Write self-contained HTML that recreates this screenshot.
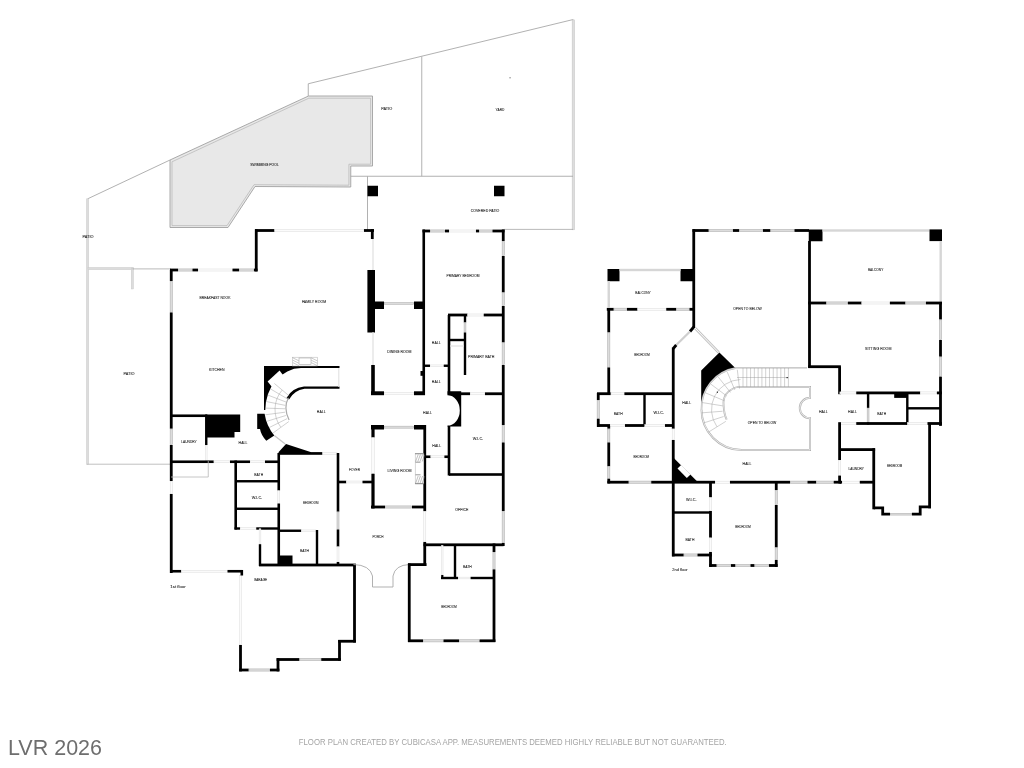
<!DOCTYPE html>
<html><head><meta charset="utf-8"><style>
html,body{margin:0;padding:0;background:#fff;width:1024px;height:768px;overflow:hidden}
svg{display:block;filter:grayscale(1)}
.lab text{font-family:"Liberation Sans",sans-serif;font-size:42px;fill:#1a1a1a;stroke:#1a1a1a;stroke-width:0.8px}
</style></head><body>
<svg width="1024" height="768" viewBox="0 0 1024 768">
<rect width="1024" height="768" fill="#fff"/>
<path d="M170,160 L308.5,96 L372.5,96 L372.5,166 L350.75,166 L350.75,187 L255,186.5 L228,227.5 L170,227.5 Z" fill="#e8e8e8" stroke="#a0a0a0" stroke-width="0.9"/>
<path d="M172,161.8 L308.8,98.2 L370.6,98.2 L370.6,164.2 L348.9,164.2 L348.9,185.2 L254,184.7 L227,225.6 L172,225.6 Z" fill="none" stroke="#b4b4b4" stroke-width="0.7"/>
<polyline points="87.50,198.90 170.00,160.00" fill="none" stroke="#a8a8a8" stroke-width="0.9"/>
<rect x="86.40" y="198.90" width="2.30" height="265.60" fill="#dcdcdc" stroke="#c6c6c6" stroke-width="0.4"/>
<polyline points="308.25,96.00 308.25,83.75 573.25,19.50" fill="none" stroke="#a8a8a8" stroke-width="0.9"/>
<rect x="572.15" y="19.90" width="2.40" height="209.90" fill="#dddddd" stroke="#c2c2c2" stroke-width="0.5"/>
<polyline points="421.75,56.50 421.75,176.25" fill="none" stroke="#a8a8a8" stroke-width="0.9"/>
<polyline points="350.75,176.25 573.00,176.25" fill="none" stroke="#a8a8a8" stroke-width="0.9"/>
<polyline points="367.50,176.25 367.50,230.00" fill="none" stroke="#a8a8a8" stroke-width="0.9"/>
<polyline points="504.00,229.40 573.00,229.40" fill="none" stroke="#a8a8a8" stroke-width="0.8"/>
<polyline points="87.00,464.20 171.00,464.20" fill="none" stroke="#c0c0c0" stroke-width="1.0"/>
<rect x="88.00" y="267.40" width="45.40" height="2.30" fill="#dcdcdc" stroke="#c6c6c6" stroke-width="0.4"/>
<rect x="131.20" y="268.00" width="2.30" height="21.00" fill="#dcdcdc" stroke="#c6c6c6" stroke-width="0.4"/>
<polyline points="132.50,268.90 171.00,268.90" fill="none" stroke="#a8a8a8" stroke-width="0.8"/>
<rect x="509.50" y="77.30" width="1.10" height="1.00" fill="#555"/>
<rect x="367.50" y="185.75" width="10.50" height="10.50" fill="#000"/>
<rect x="494.00" y="185.75" width="10.50" height="10.50" fill="#000"/>
<rect x="169.85" y="270.00" width="2.80" height="11.00" fill="#000"/>
<rect x="170.15" y="281.30" width="2.20" height="30.90" fill="#dcdcdc" stroke="#b4b4b4" stroke-width="0.6"/>
<rect x="169.85" y="312.50" width="2.80" height="116.25" fill="#000"/>
<rect x="170.15" y="429.05" width="2.20" height="15.65" fill="#dcdcdc" stroke="#b4b4b4" stroke-width="0.6"/>
<rect x="169.85" y="445.00" width="2.80" height="36.00" fill="#000"/>
<rect x="170.20" y="481.25" width="2.10" height="12.50" fill="#fbfbfb" stroke="#dcdcdc" stroke-width="0.5"/>
<rect x="169.85" y="494.00" width="2.80" height="79.00" fill="#000"/>
<rect x="170.00" y="268.60" width="8.00" height="2.80" fill="#000"/>
<rect x="178.30" y="268.90" width="13.90" height="2.20" fill="#dcdcdc" stroke="#b4b4b4" stroke-width="0.6"/>
<rect x="192.50" y="268.60" width="5.50" height="2.80" fill="#000"/>
<rect x="198.25" y="268.95" width="34.00" height="2.10" fill="#fbfbfb" stroke="#dcdcdc" stroke-width="0.5"/>
<rect x="232.50" y="268.60" width="6.50" height="2.80" fill="#000"/>
<rect x="239.30" y="268.90" width="14.40" height="2.20" fill="#dcdcdc" stroke="#b4b4b4" stroke-width="0.6"/>
<rect x="254.00" y="268.60" width="3.50" height="2.80" fill="#000"/>
<rect x="254.85" y="229.20" width="2.80" height="42.20" fill="#000"/>
<rect x="255.00" y="229.10" width="19.50" height="2.80" fill="#000"/>
<rect x="274.75" y="229.45" width="89.00" height="2.10" fill="#fbfbfb" stroke="#dcdcdc" stroke-width="0.5"/>
<rect x="364.00" y="229.10" width="10.00" height="2.80" fill="#000"/>
<rect x="370.90" y="229.20" width="2.80" height="9.80" fill="#000"/>
<rect x="372.55" y="239.25" width="0.90" height="30.50" fill="#fbfbfb" stroke="#dcdcdc" stroke-width="0.5"/>
<rect x="367.40" y="270.00" width="7.60" height="62.50" fill="#000"/>
<rect x="372.25" y="332.75" width="1.50" height="32.00" fill="#fbfbfb" stroke="#dcdcdc" stroke-width="0.5"/>
<rect x="371.20" y="365.00" width="3.60" height="30.00" fill="#000"/>
<rect x="373.00" y="301.50" width="11.00" height="7.50" fill="#000"/>
<rect x="384.30" y="302.50" width="29.40" height="1.80" fill="#dcdcdc" stroke="#b4b4b4" stroke-width="0.6"/>
<rect x="414.00" y="301.50" width="11.00" height="7.50" fill="#000"/>
<rect x="422.45" y="229.50" width="2.60" height="165.50" fill="#000"/>
<rect x="420.50" y="371.00" width="2.50" height="4.80" fill="#000"/>
<rect x="371.00" y="391.30" width="13.00" height="3.90" fill="#000"/>
<rect x="384.25" y="392.35" width="29.50" height="1.90" fill="#fbfbfb" stroke="#dcdcdc" stroke-width="0.5"/>
<rect x="414.00" y="391.30" width="11.00" height="3.90" fill="#000"/>
<rect x="422.50" y="229.60" width="7.50" height="2.80" fill="#000"/>
<rect x="430.30" y="229.90" width="14.40" height="2.20" fill="#dcdcdc" stroke="#b4b4b4" stroke-width="0.6"/>
<rect x="445.00" y="229.60" width="4.00" height="2.80" fill="#000"/>
<rect x="449.25" y="229.95" width="26.50" height="2.10" fill="#fbfbfb" stroke="#dcdcdc" stroke-width="0.5"/>
<rect x="476.00" y="229.60" width="3.00" height="2.80" fill="#000"/>
<rect x="479.30" y="229.90" width="12.90" height="2.20" fill="#dcdcdc" stroke="#b4b4b4" stroke-width="0.6"/>
<rect x="492.50" y="229.60" width="12.00" height="2.80" fill="#000"/>
<rect x="501.85" y="229.50" width="2.80" height="11.50" fill="#000"/>
<rect x="502.15" y="241.30" width="2.20" height="14.40" fill="#dcdcdc" stroke="#b4b4b4" stroke-width="0.6"/>
<rect x="501.85" y="256.00" width="2.80" height="36.50" fill="#000"/>
<rect x="502.15" y="292.80" width="2.20" height="12.90" fill="#dcdcdc" stroke="#b4b4b4" stroke-width="0.6"/>
<rect x="501.85" y="306.00" width="2.80" height="36.50" fill="#000"/>
<rect x="502.15" y="342.80" width="2.20" height="21.90" fill="#dcdcdc" stroke="#b4b4b4" stroke-width="0.6"/>
<rect x="501.85" y="365.00" width="2.80" height="60.00" fill="#000"/>
<rect x="502.15" y="425.30" width="2.20" height="16.90" fill="#dcdcdc" stroke="#b4b4b4" stroke-width="0.6"/>
<rect x="501.85" y="442.50" width="2.80" height="68.50" fill="#000"/>
<rect x="502.15" y="511.30" width="2.20" height="31.40" fill="#dcdcdc" stroke="#b4b4b4" stroke-width="0.6"/>
<rect x="501.85" y="543.00" width="2.80" height="3.00" fill="#000"/>
<rect x="448.00" y="313.60" width="19.50" height="2.80" fill="#000"/>
<rect x="467.75" y="313.95" width="15.75" height="2.10" fill="#fbfbfb" stroke="#dcdcdc" stroke-width="0.5"/>
<rect x="483.75" y="313.60" width="19.25" height="2.80" fill="#000"/>
<rect x="447.70" y="315.00" width="2.60" height="79.50" fill="#000"/>
<rect x="463.80" y="315.00" width="2.40" height="7.50" fill="#000"/>
<rect x="464.10" y="322.80" width="1.80" height="9.40" fill="#dcdcdc" stroke="#b4b4b4" stroke-width="0.6"/>
<rect x="463.80" y="332.50" width="2.40" height="42.50" fill="#000"/>
<rect x="449.00" y="338.80" width="16.00" height="2.40" fill="#000"/>
<rect x="450.25" y="345.75" width="13.50" height="0.50" fill="#fbfbfb" stroke="#dcdcdc" stroke-width="0.5"/>
<rect x="449.00" y="392.35" width="21.00" height="2.80" fill="#000"/>
<rect x="470.25" y="392.70" width="14.50" height="2.10" fill="#fbfbfb" stroke="#dcdcdc" stroke-width="0.5"/>
<rect x="485.00" y="392.35" width="18.00" height="2.80" fill="#000"/>
<rect x="424.00" y="364.55" width="6.00" height="2.40" fill="#000"/>
<rect x="430.25" y="364.90" width="13.25" height="1.70" fill="#fbfbfb" stroke="#dcdcdc" stroke-width="0.5"/>
<rect x="443.75" y="364.55" width="5.25" height="2.40" fill="#000"/>
<path d="M447.5,391.2 H461.2 V426.6 H447.5 V425.6 A12.3 15.2 0 0 0 447.5 395.2 Z" fill="#000" stroke="none" stroke-width="1"/>
<rect x="447.70" y="426.00" width="2.60" height="49.50" fill="#000"/>
<rect x="449.00" y="473.20" width="54.00" height="2.60" fill="#000"/>
<rect x="424.00" y="455.45" width="6.60" height="2.60" fill="#000"/>
<rect x="430.85" y="455.80" width="13.30" height="1.90" fill="#fbfbfb" stroke="#dcdcdc" stroke-width="0.5"/>
<rect x="444.40" y="455.45" width="4.60" height="2.60" fill="#000"/>
<rect x="423.35" y="425.00" width="2.80" height="86.25" fill="#000"/>
<rect x="423.70" y="511.50" width="2.10" height="30.25" fill="#fbfbfb" stroke="#dcdcdc" stroke-width="0.5"/>
<rect x="423.35" y="542.00" width="2.80" height="24.00" fill="#000"/>
<rect x="423.50" y="543.40" width="80.00" height="2.80" fill="#000"/>
<rect x="371.00" y="425.00" width="13.00" height="4.50" fill="#000"/>
<rect x="384.30" y="426.20" width="29.40" height="2.00" fill="#dcdcdc" stroke="#b4b4b4" stroke-width="0.6"/>
<rect x="414.00" y="425.00" width="11.00" height="4.50" fill="#000"/>
<rect x="371.40" y="425.00" width="3.20" height="12.50" fill="#000"/>
<rect x="371.75" y="437.75" width="2.50" height="35.75" fill="#fbfbfb" stroke="#dcdcdc" stroke-width="0.5"/>
<rect x="371.40" y="473.75" width="3.20" height="34.75" fill="#000"/>
<rect x="371.00" y="505.60" width="14.00" height="2.80" fill="#000"/>
<rect x="385.30" y="505.90" width="26.40" height="2.20" fill="#dcdcdc" stroke="#b4b4b4" stroke-width="0.6"/>
<rect x="412.00" y="505.60" width="13.00" height="2.80" fill="#000"/>
<rect x="415.20" y="453.70" width="8.60" height="30.10" fill="#fff" stroke="#b0b0b0" stroke-width="0.5"/>
<g stroke="#777" stroke-width="0.45"><line x1="415.60" y1="461.5" x2="418.20" y2="454.5"/><line x1="417.80" y1="461.5" x2="420.40" y2="454.5"/><line x1="420.00" y1="461.5" x2="422.60" y2="454.5"/><line x1="422.20" y1="461.5" x2="424.80" y2="454.5"/><line x1="415.60" y1="483.3" x2="418.20" y2="476"/><line x1="417.80" y1="483.3" x2="420.40" y2="476"/><line x1="420.00" y1="483.3" x2="422.60" y2="476"/><line x1="422.20" y1="483.3" x2="424.80" y2="476"/></g>
<g stroke="#555" stroke-width="0.6"><line x1="415.2" y1="453.8" x2="423.8" y2="453.8"/><line x1="415.2" y1="483.7" x2="423.8" y2="483.7"/><line x1="415.5" y1="462.2" x2="420.5" y2="462.2"/><line x1="415.5" y1="474.8" x2="420.5" y2="474.8"/></g>
<rect x="278.75" y="452.40" width="43.75" height="2.20" fill="#000"/>
<rect x="322.75" y="452.75" width="14.50" height="1.50" fill="#fbfbfb" stroke="#dcdcdc" stroke-width="0.5"/>
<rect x="336.70" y="453.00" width="2.60" height="58.70" fill="#000"/>
<rect x="337.00" y="512.00" width="2.00" height="17.20" fill="#dcdcdc" stroke="#b4b4b4" stroke-width="0.6"/>
<rect x="336.70" y="529.50" width="2.60" height="17.10" fill="#000"/>
<rect x="337.05" y="546.85" width="1.90" height="14.90" fill="#fbfbfb" stroke="#dcdcdc" stroke-width="0.5"/>
<rect x="336.70" y="562.00" width="2.60" height="4.00" fill="#000"/>
<rect x="338.00" y="480.70" width="8.25" height="2.60" fill="#000"/>
<rect x="346.50" y="481.05" width="15.75" height="1.90" fill="#fbfbfb" stroke="#dcdcdc" stroke-width="0.5"/>
<rect x="362.50" y="480.70" width="11.50" height="2.60" fill="#000"/>
<rect x="277.45" y="453.00" width="2.60" height="37.50" fill="#000"/>
<rect x="277.80" y="490.75" width="1.90" height="12.50" fill="#fbfbfb" stroke="#dcdcdc" stroke-width="0.5"/>
<rect x="277.45" y="503.50" width="2.60" height="62.50" fill="#000"/>
<rect x="234.40" y="460.50" width="2.60" height="69.00" fill="#000"/>
<rect x="235.70" y="480.05" width="43.05" height="2.40" fill="#000"/>
<rect x="235.70" y="507.55" width="43.05" height="2.40" fill="#000"/>
<rect x="234.50" y="527.30" width="5.50" height="2.40" fill="#000"/>
<rect x="240.25" y="527.65" width="15.75" height="1.70" fill="#fbfbfb" stroke="#dcdcdc" stroke-width="0.5"/>
<rect x="256.25" y="527.30" width="22.50" height="2.40" fill="#000"/>
<rect x="259.15" y="528.75" width="1.70" height="15.20" fill="#fbfbfb" stroke="#dcdcdc" stroke-width="0.5"/>
<rect x="258.80" y="544.20" width="2.40" height="21.80" fill="#000"/>
<rect x="278.00" y="529.55" width="23.25" height="2.40" fill="#000"/>
<rect x="301.50" y="529.90" width="14.50" height="1.70" fill="#fbfbfb" stroke="#dcdcdc" stroke-width="0.5"/>
<rect x="315.80" y="530.00" width="2.40" height="35.00" fill="#000"/>
<rect x="278.75" y="555.50" width="13.75" height="9.50" fill="#000"/>
<rect x="259.00" y="563.60" width="96.90" height="2.80" fill="#000"/>
<rect x="353.10" y="565.00" width="2.80" height="77.50" fill="#000"/>
<rect x="338.20" y="639.85" width="17.70" height="2.80" fill="#000"/>
<rect x="338.10" y="640.00" width="2.80" height="20.80" fill="#000"/>
<rect x="276.60" y="658.10" width="22.90" height="2.80" fill="#000"/>
<rect x="299.80" y="658.40" width="21.15" height="2.20" fill="#dcdcdc" stroke="#b4b4b4" stroke-width="0.6"/>
<rect x="321.25" y="658.10" width="19.55" height="2.80" fill="#000"/>
<rect x="276.60" y="658.20" width="2.80" height="13.20" fill="#000"/>
<rect x="239.10" y="668.60" width="9.65" height="2.80" fill="#000"/>
<rect x="249.05" y="668.90" width="20.65" height="2.20" fill="#dcdcdc" stroke="#b4b4b4" stroke-width="0.6"/>
<rect x="270.00" y="668.60" width="9.40" height="2.80" fill="#000"/>
<rect x="239.10" y="645.00" width="2.80" height="26.40" fill="#000"/>
<rect x="239.65" y="575.25" width="1.70" height="69.50" fill="#fbfbfb" stroke="#dcdcdc" stroke-width="0.5"/>
<rect x="170.00" y="569.95" width="11.25" height="2.60" fill="#000"/>
<rect x="181.50" y="570.30" width="45.75" height="1.90" fill="#fbfbfb" stroke="#dcdcdc" stroke-width="0.5"/>
<rect x="227.50" y="569.95" width="15.00" height="2.60" fill="#000"/>
<rect x="240.50" y="570.00" width="2.60" height="5.50" fill="#000"/>
<rect x="170.00" y="414.45" width="36.50" height="2.60" fill="#000"/>
<rect x="205.05" y="414.50" width="2.40" height="30.50" fill="#000"/>
<rect x="205.40" y="445.25" width="1.70" height="15.50" fill="#fbfbfb" stroke="#dcdcdc" stroke-width="0.5"/>
<rect x="170.00" y="460.45" width="43.75" height="2.60" fill="#000"/>
<rect x="214.00" y="460.80" width="15.75" height="1.90" fill="#fbfbfb" stroke="#dcdcdc" stroke-width="0.5"/>
<rect x="230.00" y="460.45" width="20.00" height="2.60" fill="#000"/>
<rect x="250.25" y="460.80" width="14.50" height="1.90" fill="#fbfbfb" stroke="#dcdcdc" stroke-width="0.5"/>
<rect x="265.00" y="460.45" width="14.50" height="2.60" fill="#000"/>
<path d="M206,414.5 L240.2,414.5 L240.2,432 L234.5,432 L234.5,437.5 L207,437.5 Z" fill="#000" stroke="none" stroke-width="1"/>
<polyline points="171.00,477.00 208.25,477.00 208.25,461.00" fill="none" stroke="#b8b8b8" stroke-width="0.8"/>
<polyline points="356.25,564.25" fill="none" stroke="#000" stroke-width="1.0"/>
<path d="M353.5,564.5 Q370,565 372.5,576 L372.5,587 L393,587 L393,576 Q395,565 409.5,564.5" fill="none" stroke="#a8a8a8" stroke-width="0.9"/>
<rect x="407.85" y="563.50" width="2.80" height="78.50" fill="#000"/>
<rect x="408.00" y="563.20" width="18.50" height="2.80" fill="#000"/>
<rect x="441.55" y="545.25" width="1.50" height="29.50" fill="#fbfbfb" stroke="#dcdcdc" stroke-width="0.5"/>
<rect x="441.20" y="575.00" width="2.20" height="4.00" fill="#000"/>
<rect x="453.80" y="545.00" width="2.40" height="34.00" fill="#000"/>
<rect x="441.00" y="576.80" width="17.00" height="2.40" fill="#000"/>
<rect x="458.25" y="577.15" width="12.10" height="1.70" fill="#fbfbfb" stroke="#dcdcdc" stroke-width="0.5"/>
<rect x="470.60" y="576.80" width="24.40" height="2.40" fill="#000"/>
<rect x="492.60" y="543.50" width="2.80" height="8.50" fill="#000"/>
<rect x="492.90" y="552.30" width="2.20" height="16.80" fill="#dcdcdc" stroke="#b4b4b4" stroke-width="0.6"/>
<rect x="492.60" y="569.40" width="2.80" height="72.60" fill="#000"/>
<rect x="408.00" y="639.40" width="15.00" height="2.80" fill="#000"/>
<rect x="423.30" y="639.70" width="19.90" height="2.20" fill="#dcdcdc" stroke="#b4b4b4" stroke-width="0.6"/>
<rect x="443.50" y="639.40" width="15.50" height="2.80" fill="#000"/>
<rect x="459.30" y="639.70" width="20.00" height="2.20" fill="#dcdcdc" stroke="#b4b4b4" stroke-width="0.6"/>
<rect x="479.60" y="639.40" width="15.80" height="2.80" fill="#000"/>
<path d="M264,366 L339.5,366 L339.5,368.1 L301,368.1 A36 42 0 0 0 265.3,410 L264,410 Z" fill="#000" stroke="none" stroke-width="1"/>
<path d="M267.6,381.5 L279.6,370.5 L283.5,375.8 L272.2,387.3 Z" fill="#fff" stroke="none" stroke-width="1"/>
<path d="M339.5,386.6 L304,386.6 Q292,388 286.5,398 L289,399.5 Q294,390.5 304.5,388.8 L339.5,388.8 Z" fill="#000" stroke="none" stroke-width="1"/>
<rect x="338.55" y="368.25" width="0.50" height="18.50" fill="#fbfbfb" stroke="#dcdcdc" stroke-width="0.5"/>
<path d="M257.2,413.7 L264.6,413.7 Q266.5,426 274.3,435.5 L266.3,440.8 Q261,435 260,429 L257.2,429 Z" fill="#000" stroke="none" stroke-width="1"/>
<path d="M278.7,454.4 L278.7,452 L286,444 L311.3,452.3 L322,452.3 L322,454.4 Z" fill="#000" stroke="none" stroke-width="1"/>
<polyline points="274.30,435.50 285.20,444.00" fill="none" stroke="#c8c8c8" stroke-width="1.2"/>
<g stroke="#999" stroke-width="0.45" fill="none">
<line x1="289.68" y1="396.32" x2="274.36" y2="383.47"/>
<line x1="287.77" y1="399.10" x2="270.53" y2="388.94"/>
<line x1="286.33" y1="402.15" x2="267.66" y2="394.99"/>
<line x1="285.40" y1="405.41" x2="265.80" y2="401.43"/>
<line x1="285.01" y1="408.78" x2="265.02" y2="408.09"/>
<line x1="285.17" y1="412.18" x2="265.34" y2="414.79"/>
<line x1="285.87" y1="415.49" x2="266.75" y2="421.34"/>
<line x1="287.10" y1="418.65" x2="269.20" y2="427.57"/>
<line x1="288.82" y1="421.55" x2="272.64" y2="433.31"/>
<path d="M282.02,390.22 A30 30 0 0 0 280.73,427.13"/>
</g>
<path d="M288.4,397.8 Q283,408 289.1,420" fill="none" stroke="#aaa" stroke-width="1.2"/>
<rect x="292.60" y="357.20" width="24.80" height="8.80" fill="#fff" stroke="#b0b0b0" stroke-width="0.5"/>
<rect x="299.00" y="358.00" width="12.00" height="6.50" fill="#fff" stroke="#999" stroke-width="0.5"/>
<g stroke="#888" stroke-width="0.45"><line x1="292.8" y1="357.80" x2="298.8" y2="360.80"/><line x1="292.8" y1="360.20" x2="298.8" y2="363.20"/><line x1="292.8" y1="362.60" x2="298.8" y2="365.60"/><line x1="311.2" y1="357.80" x2="317.2" y2="360.80"/><line x1="311.2" y1="360.20" x2="317.2" y2="363.20"/><line x1="311.2" y1="362.60" x2="317.2" y2="365.60"/></g>
<rect x="607.50" y="269.00" width="12.00" height="12.25" fill="#000"/>
<rect x="680.50" y="269.00" width="13.25" height="12.25" fill="#000"/>
<rect x="619.50" y="268.80" width="61.00" height="2.40" fill="#d6d6d6"/>
<rect x="607.55" y="281.00" width="2.40" height="26.50" fill="#d6d6d6"/>
<rect x="692.50" y="229.10" width="16.25" height="2.80" fill="#000"/>
<rect x="709.05" y="229.40" width="23.65" height="2.20" fill="#dcdcdc" stroke="#b4b4b4" stroke-width="0.6"/>
<rect x="733.00" y="229.10" width="6.25" height="2.80" fill="#000"/>
<rect x="739.55" y="229.40" width="23.15" height="2.20" fill="#dcdcdc" stroke="#b4b4b4" stroke-width="0.6"/>
<rect x="763.00" y="229.10" width="7.50" height="2.80" fill="#000"/>
<rect x="770.80" y="229.40" width="23.40" height="2.20" fill="#dcdcdc" stroke="#b4b4b4" stroke-width="0.6"/>
<rect x="794.50" y="229.10" width="14.50" height="2.80" fill="#000"/>
<rect x="692.35" y="229.20" width="2.80" height="98.80" fill="#000"/>
<rect x="808.75" y="229.50" width="13.75" height="11.75" fill="#000"/>
<rect x="822.50" y="229.30" width="107.00" height="2.40" fill="#d6d6d6"/>
<rect x="929.50" y="229.40" width="12.50" height="11.70" fill="#000"/>
<rect x="939.50" y="241.00" width="2.40" height="62.00" fill="#d6d6d6"/>
<rect x="808.10" y="241.00" width="2.80" height="126.90" fill="#000"/>
<rect x="808.20" y="301.60" width="18.20" height="2.80" fill="#000"/>
<rect x="826.70" y="301.90" width="20.90" height="2.20" fill="#dcdcdc" stroke="#b4b4b4" stroke-width="0.6"/>
<rect x="847.90" y="301.60" width="13.70" height="2.80" fill="#000"/>
<rect x="861.85" y="301.95" width="27.80" height="2.10" fill="#fbfbfb" stroke="#dcdcdc" stroke-width="0.5"/>
<rect x="889.90" y="301.60" width="15.60" height="2.80" fill="#000"/>
<rect x="905.80" y="301.90" width="19.90" height="2.20" fill="#dcdcdc" stroke="#b4b4b4" stroke-width="0.6"/>
<rect x="926.00" y="301.60" width="16.00" height="2.80" fill="#000"/>
<rect x="939.10" y="303.00" width="2.80" height="16.60" fill="#000"/>
<rect x="939.40" y="319.90" width="2.20" height="19.80" fill="#dcdcdc" stroke="#b4b4b4" stroke-width="0.6"/>
<rect x="939.10" y="340.00" width="2.80" height="16.70" fill="#000"/>
<rect x="939.40" y="357.00" width="2.20" height="19.40" fill="#dcdcdc" stroke="#b4b4b4" stroke-width="0.6"/>
<rect x="939.10" y="376.70" width="2.80" height="49.20" fill="#000"/>
<rect x="808.20" y="365.30" width="32.70" height="2.80" fill="#000"/>
<rect x="838.20" y="366.70" width="2.80" height="27.50" fill="#000"/>
<rect x="839.85" y="391.85" width="16.15" height="2.10" fill="#fbfbfb" stroke="#dcdcdc" stroke-width="0.5"/>
<rect x="856.25" y="391.50" width="63.95" height="2.80" fill="#000"/>
<rect x="920.45" y="391.85" width="16.20" height="2.10" fill="#fbfbfb" stroke="#dcdcdc" stroke-width="0.5"/>
<rect x="936.90" y="391.50" width="5.00" height="2.80" fill="#000"/>
<rect x="894.20" y="393.00" width="13.50" height="4.90" fill="#000"/>
<rect x="866.90" y="392.90" width="2.40" height="15.00" fill="#000"/>
<rect x="867.20" y="408.20" width="1.80" height="14.00" fill="#dcdcdc" stroke="#b4b4b4" stroke-width="0.6"/>
<rect x="866.90" y="422.50" width="2.40" height="2.10" fill="#000"/>
<rect x="906.10" y="392.90" width="2.40" height="31.70" fill="#000"/>
<rect x="907.00" y="407.10" width="33.00" height="2.40" fill="#000"/>
<rect x="839.85" y="422.45" width="16.15" height="2.10" fill="#fbfbfb" stroke="#dcdcdc" stroke-width="0.5"/>
<rect x="856.25" y="422.10" width="50.75" height="2.80" fill="#000"/>
<rect x="907.25" y="422.45" width="20.00" height="2.10" fill="#fbfbfb" stroke="#dcdcdc" stroke-width="0.5"/>
<rect x="927.50" y="422.10" width="14.40" height="2.80" fill="#000"/>
<rect x="838.20" y="422.20" width="2.80" height="37.80" fill="#000"/>
<rect x="838.55" y="460.25" width="2.10" height="15.10" fill="#fbfbfb" stroke="#dcdcdc" stroke-width="0.5"/>
<rect x="838.20" y="475.60" width="2.80" height="7.80" fill="#000"/>
<rect x="839.60" y="448.20" width="35.50" height="2.80" fill="#000"/>
<rect x="872.35" y="448.20" width="2.80" height="61.10" fill="#000"/>
<rect x="839.60" y="480.80" width="2.40" height="2.80" fill="#000"/>
<rect x="842.25" y="481.15" width="17.30" height="2.10" fill="#fbfbfb" stroke="#dcdcdc" stroke-width="0.5"/>
<rect x="859.80" y="480.80" width="13.95" height="2.80" fill="#000"/>
<rect x="928.20" y="423.50" width="2.80" height="84.80" fill="#000"/>
<polyline points="873.75,507.90 882.70,507.90 882.70,514.20 890.00,514.20" fill="none" stroke="#000" stroke-width="2.8" stroke-linejoin="miter"/>
<rect x="890.30" y="513.30" width="21.30" height="1.80" fill="#dcdcdc" stroke="#b4b4b4" stroke-width="0.6"/>
<polyline points="911.90,514.20 920.20,514.20 920.20,506.90 931.00,506.90" fill="none" stroke="#000" stroke-width="2.8"/>
<rect x="606.80" y="307.90" width="6.95" height="2.80" fill="#000"/>
<rect x="614.05" y="308.20" width="12.65" height="2.20" fill="#dcdcdc" stroke="#b4b4b4" stroke-width="0.6"/>
<rect x="627.00" y="307.90" width="10.50" height="2.80" fill="#000"/>
<rect x="637.75" y="308.25" width="28.25" height="2.10" fill="#fbfbfb" stroke="#dcdcdc" stroke-width="0.5"/>
<rect x="666.25" y="307.90" width="10.00" height="2.80" fill="#000"/>
<rect x="676.55" y="308.20" width="12.65" height="2.20" fill="#dcdcdc" stroke="#b4b4b4" stroke-width="0.6"/>
<rect x="689.50" y="307.90" width="5.50" height="2.80" fill="#000"/>
<rect x="607.35" y="308.75" width="2.80" height="23.75" fill="#000"/>
<rect x="607.65" y="332.80" width="2.20" height="34.40" fill="#dcdcdc" stroke="#b4b4b4" stroke-width="0.6"/>
<rect x="607.35" y="367.50" width="2.80" height="26.90" fill="#000"/>
<polyline points="693.75,327.00 690.00,331.50" fill="none" stroke="#000" stroke-width="2.8"/>
<polyline points="690.00,331.50 676.25,345.00" fill="none" stroke="#cfcfcf" stroke-width="2.2"/>
<polyline points="676.25,345.00 673.25,348.50" fill="none" stroke="#000" stroke-width="2.8"/>
<rect x="671.85" y="347.50" width="2.80" height="81.25" fill="#000"/>
<rect x="672.20" y="429.00" width="2.10" height="10.75" fill="#fbfbfb" stroke="#dcdcdc" stroke-width="0.5"/>
<rect x="671.85" y="440.00" width="2.80" height="116.40" fill="#000"/>
<polyline points="695.00,328.00 718.75,352.50" fill="none" stroke="#c4c4c4" stroke-width="2.6"/>
<polyline points="695.00,328.00 718.75,352.50" fill="none" stroke="#fff" stroke-width="1.0"/>
<path d="M719.4,352.5 L735.3,368.1 A41 41 0 0 0 701.2,409.5 L701.2,370.5 Z" fill="#000" stroke="none" stroke-width="1"/>
<rect x="597.00" y="392.30" width="13.80" height="2.80" fill="#000"/>
<rect x="611.05" y="392.65" width="13.10" height="2.10" fill="#fbfbfb" stroke="#dcdcdc" stroke-width="0.5"/>
<rect x="624.40" y="392.30" width="48.85" height="2.80" fill="#000"/>
<rect x="596.85" y="393.00" width="2.80" height="7.00" fill="#000"/>
<rect x="597.15" y="400.30" width="2.20" height="18.15" fill="#dcdcdc" stroke="#b4b4b4" stroke-width="0.6"/>
<rect x="596.85" y="418.75" width="2.80" height="8.15" fill="#000"/>
<rect x="643.30" y="393.00" width="2.40" height="33.00" fill="#000"/>
<rect x="597.00" y="424.10" width="13.00" height="2.80" fill="#000"/>
<rect x="610.25" y="424.45" width="14.50" height="2.10" fill="#fbfbfb" stroke="#dcdcdc" stroke-width="0.5"/>
<rect x="625.00" y="424.10" width="19.50" height="2.80" fill="#000"/>
<rect x="644.75" y="424.45" width="20.00" height="2.10" fill="#fbfbfb" stroke="#dcdcdc" stroke-width="0.5"/>
<rect x="665.00" y="424.10" width="8.25" height="2.80" fill="#000"/>
<rect x="607.35" y="426.00" width="2.80" height="2.75" fill="#000"/>
<rect x="607.65" y="429.05" width="2.20" height="13.15" fill="#dcdcdc" stroke="#b4b4b4" stroke-width="0.6"/>
<rect x="607.35" y="442.50" width="2.80" height="23.75" fill="#000"/>
<rect x="607.65" y="466.55" width="2.20" height="11.90" fill="#dcdcdc" stroke="#b4b4b4" stroke-width="0.6"/>
<rect x="607.35" y="478.75" width="2.80" height="4.65" fill="#000"/>
<rect x="607.40" y="480.80" width="21.35" height="2.80" fill="#000"/>
<rect x="629.05" y="481.10" width="21.90" height="2.20" fill="#dcdcdc" stroke="#b4b4b4" stroke-width="0.6"/>
<rect x="651.25" y="480.80" width="63.75" height="2.80" fill="#000"/>
<rect x="715.25" y="481.15" width="14.50" height="2.10" fill="#fbfbfb" stroke="#dcdcdc" stroke-width="0.5"/>
<rect x="730.00" y="480.80" width="60.00" height="2.80" fill="#000"/>
<rect x="790.30" y="481.10" width="16.90" height="2.20" fill="#dcdcdc" stroke="#b4b4b4" stroke-width="0.6"/>
<rect x="807.50" y="480.80" width="8.75" height="2.80" fill="#000"/>
<rect x="816.55" y="481.10" width="16.90" height="2.20" fill="#dcdcdc" stroke="#b4b4b4" stroke-width="0.6"/>
<rect x="833.75" y="480.80" width="7.25" height="2.80" fill="#000"/>
<path d="M673.25,457.5 L698,482.2 L673.25,482.2 Z" fill="#000" stroke="none" stroke-width="1"/>
<path d="M677.5,468.5 L681.2,465 L690.5,474.5 L686.8,478 Z" fill="#fff" stroke="none" stroke-width="1"/>
<rect x="673.25" y="511.30" width="37.25" height="2.40" fill="#000"/>
<rect x="709.10" y="482.00" width="2.80" height="15.40" fill="#000"/>
<rect x="709.45" y="497.65" width="2.10" height="13.10" fill="#fbfbfb" stroke="#dcdcdc" stroke-width="0.5"/>
<rect x="709.10" y="511.00" width="2.80" height="26.70" fill="#000"/>
<rect x="709.45" y="537.95" width="2.10" height="13.80" fill="#fbfbfb" stroke="#dcdcdc" stroke-width="0.5"/>
<rect x="709.10" y="552.00" width="2.80" height="14.90" fill="#000"/>
<rect x="672.00" y="553.60" width="11.75" height="2.80" fill="#000"/>
<rect x="684.05" y="553.90" width="13.15" height="2.20" fill="#dcdcdc" stroke="#b4b4b4" stroke-width="0.6"/>
<rect x="697.50" y="553.60" width="14.30" height="2.80" fill="#000"/>
<rect x="774.85" y="482.00" width="2.80" height="8.00" fill="#000"/>
<rect x="775.15" y="490.30" width="2.20" height="14.40" fill="#dcdcdc" stroke="#b4b4b4" stroke-width="0.6"/>
<rect x="774.85" y="505.00" width="2.80" height="42.50" fill="#000"/>
<rect x="775.15" y="547.80" width="2.20" height="11.90" fill="#dcdcdc" stroke="#b4b4b4" stroke-width="0.6"/>
<rect x="774.85" y="560.00" width="2.80" height="6.90" fill="#000"/>
<rect x="709.20" y="564.10" width="7.50" height="2.80" fill="#000"/>
<rect x="717.00" y="564.40" width="13.70" height="2.20" fill="#dcdcdc" stroke="#b4b4b4" stroke-width="0.6"/>
<rect x="731.00" y="564.10" width="4.50" height="2.80" fill="#000"/>
<rect x="735.80" y="564.40" width="14.40" height="2.20" fill="#dcdcdc" stroke="#b4b4b4" stroke-width="0.6"/>
<rect x="750.50" y="564.10" width="4.10" height="2.80" fill="#000"/>
<rect x="754.90" y="564.40" width="13.80" height="2.20" fill="#dcdcdc" stroke="#b4b4b4" stroke-width="0.6"/>
<rect x="769.00" y="564.10" width="8.60" height="2.80" fill="#000"/>
<path d="M737,387 L810,387 L810,397.8 A10.2 10.2 0 0 0 810,418.2 L810,450 L741.5,450 A40.5 40.5 0 0 1 701.5,409.5" fill="none" stroke="#b0b0b0" stroke-width="2.0"/>
<path d="M737,387 L810,387 L810,397.8 A10.2 10.2 0 0 0 810,418.2 L810,450 L741.5,450 A40.5 40.5 0 0 1 701.5,409.5" fill="none" stroke="#fff" stroke-width="0.7"/>
<path d="M701.5,409.5 A40.5 40.5 0 0 1 735.3,368.1" fill="none" stroke="#b0b0b0" stroke-width="1.6"/>
<path d="M701.5,409.5 A40.5 40.5 0 0 1 735.3,368.1" fill="none" stroke="#fff" stroke-width="0.5"/>
<polyline points="735.00,367.80 807.00,367.80" fill="none" stroke="#b0b0b0" stroke-width="1.6"/>
<polyline points="735.00,367.80 807.00,367.80" fill="none" stroke="#fff" stroke-width="0.5"/>
<g stroke="#999" stroke-width="0.45">
<line x1="743.00" y1="368" x2="743.00" y2="386.9"/>
<line x1="746.78" y1="368" x2="746.78" y2="386.9"/>
<line x1="750.57" y1="368" x2="750.57" y2="386.9"/>
<line x1="754.35" y1="368" x2="754.35" y2="386.9"/>
<line x1="758.13" y1="368" x2="758.13" y2="386.9"/>
<line x1="761.92" y1="368" x2="761.92" y2="386.9"/>
<line x1="765.70" y1="368" x2="765.70" y2="386.9"/>
<line x1="769.48" y1="368" x2="769.48" y2="386.9"/>
<line x1="773.27" y1="368" x2="773.27" y2="386.9"/>
<line x1="777.05" y1="368" x2="777.05" y2="386.9"/>
<line x1="780.83" y1="368" x2="780.83" y2="386.9"/>
<line x1="784.62" y1="368" x2="784.62" y2="386.9"/>
<line x1="788.40" y1="368" x2="788.40" y2="386.9"/>
<line x1="737" y1="377.5" x2="788.4" y2="377.5"/>
</g>
<rect x="786.50" y="377.00" width="1.30" height="1.20" fill="#222"/>
<path d="M737,387 Q722,392 723.6,405.6 Q724,414 726.7,419.7" fill="none" stroke="#b0b0b0" stroke-width="1.8"/>
<path d="M737,387 Q722,392 723.6,405.6 Q724,414 726.7,419.7" fill="none" stroke="#fff" stroke-width="0.6"/>
<g stroke="#999" stroke-width="0.45">
<line x1="739.51" y1="388.62" x2="737.32" y2="369.72"/>
<line x1="734.75" y1="389.87" x2="727.30" y2="372.11"/>
<line x1="730.44" y1="392.42" x2="718.22" y2="376.98"/>
<line x1="726.86" y1="396.11" x2="710.68" y2="384.00"/>
<line x1="724.25" y1="400.69" x2="705.19" y2="392.72"/>
<line x1="722.79" y1="405.85" x2="702.11" y2="402.55"/>
<line x1="722.57" y1="411.26" x2="701.64" y2="412.85"/>
<line x1="723.60" y1="416.54" x2="703.82" y2="422.92"/>
<line x1="725.82" y1="421.36" x2="708.50" y2="432.10"/>
<path fill="none" d="M740.45,379.52 A30 30 0 0 0 716.93,426.71"/>
</g>
<rect x="716.80" y="391.60" width="1.20" height="1.20" fill="#222"/>
<g class="lab" transform="scale(0.1)">
<text x="3867.5" y="1104.0" text-anchor="middle" textLength="110.0" lengthAdjust="spacingAndGlyphs">PATIO</text>
<text x="5000.0" y="1114.0" text-anchor="middle" textLength="88.0" lengthAdjust="spacingAndGlyphs">YARD</text>
<text x="2645.0" y="1664.0" text-anchor="middle" textLength="286.0" lengthAdjust="spacingAndGlyphs">SWIMMING POOL</text>
<text x="4850.0" y="2124.0" text-anchor="middle" textLength="286.0" lengthAdjust="spacingAndGlyphs">COVERED PATIO</text>
<text x="880.0" y="2376.5" text-anchor="middle" textLength="110.0" lengthAdjust="spacingAndGlyphs">PATIO</text>
<text x="2150.0" y="2989.0" text-anchor="middle" textLength="308.0" lengthAdjust="spacingAndGlyphs">BREAKFAST NOOK</text>
<text x="3140.0" y="3034.0" text-anchor="middle" textLength="242.0" lengthAdjust="spacingAndGlyphs">FAMILY ROOM</text>
<text x="4630.0" y="2771.5" text-anchor="middle" textLength="330.0" lengthAdjust="spacingAndGlyphs">PRIMARY BEDROOM</text>
<text x="3992.5" y="3526.5" text-anchor="middle" textLength="242.0" lengthAdjust="spacingAndGlyphs">DINING ROOM</text>
<text x="4362.5" y="3444.0" text-anchor="middle" textLength="88.0" lengthAdjust="spacingAndGlyphs">HALL</text>
<text x="4362.5" y="3834.0" text-anchor="middle" textLength="88.0" lengthAdjust="spacingAndGlyphs">HALL</text>
<text x="4812.5" y="3581.5" text-anchor="middle" textLength="264.0" lengthAdjust="spacingAndGlyphs">PRIMARY BATH</text>
<text x="2167.5" y="3714.0" text-anchor="middle" textLength="154.0" lengthAdjust="spacingAndGlyphs">KITCHEN</text>
<text x="1290.0" y="3754.0" text-anchor="middle" textLength="110.0" lengthAdjust="spacingAndGlyphs">PATIO</text>
<text x="3212.5" y="4129.0" text-anchor="middle" textLength="88.0" lengthAdjust="spacingAndGlyphs">HALL</text>
<text x="4275.0" y="4144.0" text-anchor="middle" textLength="88.0" lengthAdjust="spacingAndGlyphs">HALL</text>
<text x="1890.0" y="4431.5" text-anchor="middle" textLength="154.0" lengthAdjust="spacingAndGlyphs">LAUNDRY</text>
<text x="2430.0" y="4439.0" text-anchor="middle" textLength="88.0" lengthAdjust="spacingAndGlyphs">HALL</text>
<text x="4780.0" y="4401.5" text-anchor="middle" textLength="105.0" lengthAdjust="spacingAndGlyphs">W.I.C.</text>
<text x="4367.5" y="4471.5" text-anchor="middle" textLength="88.0" lengthAdjust="spacingAndGlyphs">HALL</text>
<text x="3995.0" y="4719.0" text-anchor="middle" textLength="242.0" lengthAdjust="spacingAndGlyphs">LIVING ROOM</text>
<text x="3545.0" y="4714.0" text-anchor="middle" textLength="110.0" lengthAdjust="spacingAndGlyphs">FOYER</text>
<text x="2587.5" y="4759.0" text-anchor="middle" textLength="88.0" lengthAdjust="spacingAndGlyphs">BATH</text>
<text x="2570.0" y="4994.0" text-anchor="middle" textLength="105.0" lengthAdjust="spacingAndGlyphs">W.I.C.</text>
<text x="3107.5" y="5039.0" text-anchor="middle" textLength="154.0" lengthAdjust="spacingAndGlyphs">BEDROOM</text>
<text x="4619.0" y="5108.0" text-anchor="middle" textLength="132.0" lengthAdjust="spacingAndGlyphs">OFFICE</text>
<text x="3780.0" y="5384.0" text-anchor="middle" textLength="110.0" lengthAdjust="spacingAndGlyphs">PORCH</text>
<text x="3045.0" y="5521.5" text-anchor="middle" textLength="88.0" lengthAdjust="spacingAndGlyphs">BATH</text>
<text x="4673.0" y="5678.0" text-anchor="middle" textLength="88.0" lengthAdjust="spacingAndGlyphs">BATH</text>
<text x="2605.0" y="5809.0" text-anchor="middle" textLength="132.0" lengthAdjust="spacingAndGlyphs">GARAGE</text>
<text x="1780.0" y="5884.0" text-anchor="middle" textLength="153.0" lengthAdjust="spacingAndGlyphs">1st floor</text>
<text x="4490.0" y="6080.0" text-anchor="middle" textLength="154.0" lengthAdjust="spacingAndGlyphs">BEDROOM</text>
<text x="6430.0" y="2944.0" text-anchor="middle" textLength="154.0" lengthAdjust="spacingAndGlyphs">BALCONY</text>
<text x="7475.0" y="3096.5" text-anchor="middle" textLength="286.0" lengthAdjust="spacingAndGlyphs">OPEN TO BELOW</text>
<text x="8756.0" y="2712.0" text-anchor="middle" textLength="154.0" lengthAdjust="spacingAndGlyphs">BALCONY</text>
<text x="8782.0" y="3503.0" text-anchor="middle" textLength="264.0" lengthAdjust="spacingAndGlyphs">SITTING ROOM</text>
<text x="6420.0" y="3556.5" text-anchor="middle" textLength="154.0" lengthAdjust="spacingAndGlyphs">BEDROOM</text>
<text x="6867.5" y="4039.0" text-anchor="middle" textLength="88.0" lengthAdjust="spacingAndGlyphs">HALL</text>
<text x="8233.0" y="4126.5" text-anchor="middle" textLength="88.0" lengthAdjust="spacingAndGlyphs">HALL</text>
<text x="8525.0" y="4126.5" text-anchor="middle" textLength="88.0" lengthAdjust="spacingAndGlyphs">HALL</text>
<text x="8817.0" y="4145.0" text-anchor="middle" textLength="88.0" lengthAdjust="spacingAndGlyphs">BATH</text>
<text x="6182.5" y="4151.5" text-anchor="middle" textLength="88.0" lengthAdjust="spacingAndGlyphs">BATH</text>
<text x="6587.5" y="4139.0" text-anchor="middle" textLength="105.0" lengthAdjust="spacingAndGlyphs">W.I.C.</text>
<text x="7620.0" y="4239.0" text-anchor="middle" textLength="286.0" lengthAdjust="spacingAndGlyphs">OPEN TO BELOW</text>
<text x="6412.5" y="4576.5" text-anchor="middle" textLength="154.0" lengthAdjust="spacingAndGlyphs">BEDROOM</text>
<text x="7470.0" y="4651.5" text-anchor="middle" textLength="88.0" lengthAdjust="spacingAndGlyphs">HALL</text>
<text x="8562.5" y="4697.0" text-anchor="middle" textLength="154.0" lengthAdjust="spacingAndGlyphs">LAUNDRY</text>
<text x="8946.0" y="4670.0" text-anchor="middle" textLength="154.0" lengthAdjust="spacingAndGlyphs">BEDROOM</text>
<text x="6912.5" y="5014.0" text-anchor="middle" textLength="105.0" lengthAdjust="spacingAndGlyphs">W.I.C.</text>
<text x="7430.0" y="5276.5" text-anchor="middle" textLength="154.0" lengthAdjust="spacingAndGlyphs">BEDROOM</text>
<text x="6900.0" y="5414.0" text-anchor="middle" textLength="88.0" lengthAdjust="spacingAndGlyphs">BATH</text>
<text x="6800.0" y="5714.0" text-anchor="middle" textLength="153.0" lengthAdjust="spacingAndGlyphs">2nd floor</text>
</g>
<text x="8" y="754.5" font-family="Liberation Sans, sans-serif" font-size="22" fill="#6e6e6e" textLength="94" lengthAdjust="spacingAndGlyphs">LVR 2026</text>
<text x="298.75" y="745.4" font-family="Liberation Sans, sans-serif" font-size="8.4" fill="#a4a4a4" textLength="428" lengthAdjust="spacingAndGlyphs">FLOOR PLAN CREATED BY CUBICASA APP. MEASUREMENTS DEEMED HIGHLY RELIABLE BUT NOT GUARANTEED.</text>
</svg>
</body></html>
